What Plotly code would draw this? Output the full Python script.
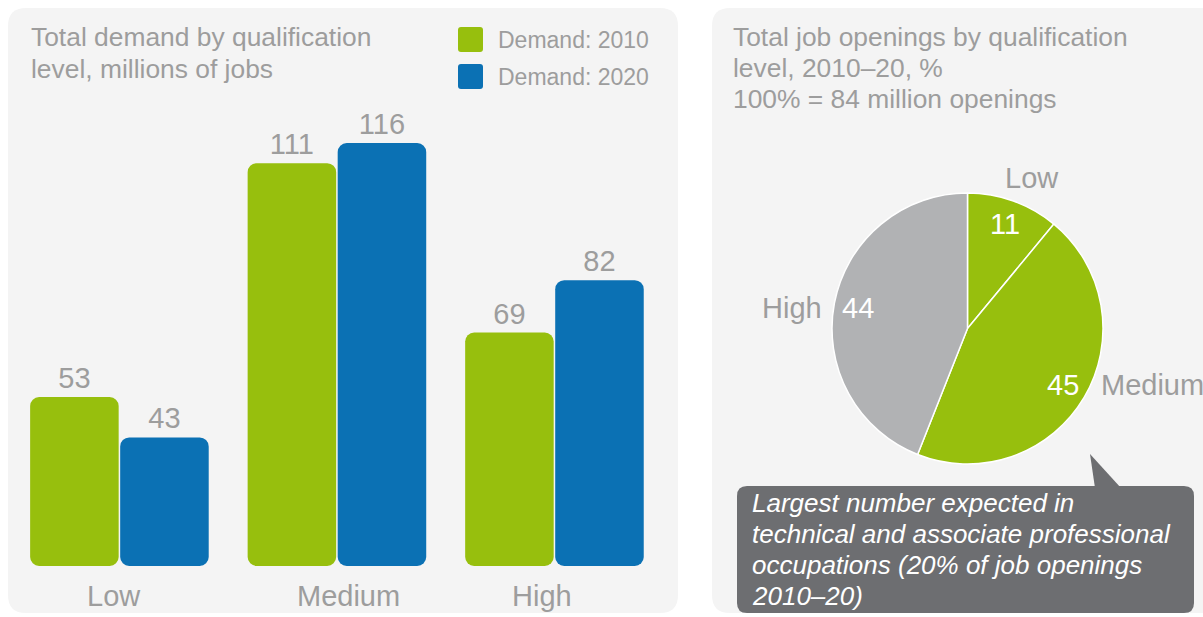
import math
import plotly.graph_objects as go

# ---------------- data ----------------
categories = ["Low", "Medium", "High"]
demand_2010 = [53, 111, 69]
demand_2020 = [43, 116, 82]
series_names = ["Demand: 2010", "Demand: 2020"]

pie_labels = ["Low", "Medium", "High"]
pie_values = [11, 45, 44]

left_title = ["Total demand by qualification", "level, millions of jobs"]
right_title = ["Total job openings by qualification", "level, 2010\u201320, %", "100% = 84 million openings"]
callout_lines = ["Largest number expected in", "technical and associate professional",
                 "occupations (20% of job openings", "2010\u201320)"]

# ---------------- style ----------------
W, H = 1203, 617
GREEN = "#97bf0d"
BLUE = "#0b71b4"
GREY_SLICE = "#b1b2b4"
PANEL = "#f4f4f4"
TXT = "#9d9d9d"
CALLOUT = "#6d6e71"
FONT = "Arial, Liberation Sans, sans-serif"
pie_colors = [GREEN, GREEN, GREY_SLICE]

AXIS_MIN = 11.1          # visual baseline of the original chart
PX_PER_UNIT = 4.032
Y_BOTTOM_PX, Y_TOP_PX = 566, 86
BW = 0.407
OFFSETS = [-0.4105, 0.0035]
RADIUS = 9


def px(x):
    return x / W


def py(y):
    return 1 - y / H


def rrect(x0, y0, x1, y1, r):
    X = lambda v: px(v)
    Y = lambda v: py(v)
    return (f"M {X(x0 + r)} {Y(y0)} L {X(x1 - r)} {Y(y0)} Q {X(x1)} {Y(y0)} {X(x1)} {Y(y0 + r)} "
            f"L {X(x1)} {Y(y1 - r)} Q {X(x1)} {Y(y1)} {X(x1 - r)} {Y(y1)} "
            f"L {X(x0 + r)} {Y(y1)} Q {X(x0)} {Y(y1)} {X(x0)} {Y(y1 - r)} "
            f"L {X(x0)} {Y(y0 + r)} Q {X(x0)} {Y(y0)} {X(x0 + r)} {Y(y0)} Z")


fig = go.Figure()

for name, vals, color, off in zip(series_names, [demand_2010, demand_2020], [GREEN, BLUE], OFFSETS):
    fig.add_trace(go.Bar(
        x=categories, y=[v - AXIS_MIN for v in vals], base=AXIS_MIN,
        offset=off, width=BW, marker=dict(color=color, cornerradius=RADIUS, line=dict(width=0)),
        text=[str(v) for v in vals], textposition="outside",
        textfont=dict(family=FONT, size=29, color=TXT), cliponaxis=False,
        name=name, customdata=vals, hovertemplate="%{x}: %{customdata}<extra>" + name + "</extra>",
        showlegend=False))

# pie
PIE_CX, PIE_CY, PIE_R = 967.5, 328.5, 135.5
fig.add_trace(go.Pie(
    labels=pie_labels, values=pie_values, sort=False, direction="clockwise", rotation=0,
    marker=dict(colors=pie_colors, line=dict(color="white", width=1.5)),
    textinfo="none", showlegend=False,
    domain=dict(x=[px(PIE_CX - PIE_R), px(PIE_CX + PIE_R)],
                y=[py(PIE_CY + PIE_R), py(PIE_CY - PIE_R)])))

shapes = [
    dict(type="path", path=rrect(8, 8, 678, 613, 18), fillcolor=PANEL, line=dict(width=0), layer="below",
         xref="paper", yref="paper"),
    dict(type="path", path=rrect(712, 8, 1230, 613, 18), fillcolor=PANEL, line=dict(width=0), layer="below",
         xref="paper", yref="paper"),
    dict(type="path", path=rrect(737, 486, 1194, 613, 10), fillcolor=CALLOUT, line=dict(width=0),
         xref="paper", yref="paper"),
    dict(type="path", path=f"M {px(1090)} {py(454)} L {px(1095)} {py(488)} L {px(1121)} {py(488)} Z",
         fillcolor=CALLOUT, line=dict(width=0), xref="paper", yref="paper"),
]
# legend swatches
for i, color in enumerate([GREEN, BLUE]):
    y0 = 27 + i * 37
    shapes.append(dict(type="path", path=rrect(458, y0, 483, y0 + 25, 3), fillcolor=color,
                       line=dict(width=0), xref="paper", yref="paper"))

annotations = []


def text(x, y, s, size, color=TXT, xanchor="left", **kw):
    annotations.append(dict(x=px(x), y=py(y), xref="paper", yref="paper", text=s, showarrow=False,
                            xanchor=xanchor, yanchor="middle",
                            font=dict(family=FONT, size=size, color=color), **kw))


for i, line in enumerate(left_title):
    text(29, 37 + i * 32, line, 26.4)
for i, line in enumerate(right_title):
    text(731, 37 + i * 31, line, 26.4)
for i, name in enumerate(series_names):
    text(496, 40 + i * 37, name, 23)
for i, line in enumerate(callout_lines):
    text(750, 503 + i * 31, f"<i>{line}</i>", 26, color="white")

# category labels
cat_shift = [-5, 12, -12]
for c, s in zip(categories, cat_shift):
    annotations.append(dict(x=c, y=py(596), xref="x", yref="paper", text=c, showarrow=False,
                            xshift=s, xanchor="center", yanchor="middle",
                            font=dict(family=FONT, size=29, color=TXT)))

# pie labels (positions from slice mid-angles)
total = sum(pie_values)
cum = 0
outer = {"Low": dict(xanchor="center", xshift=27, yshift=46),
         "Medium": dict(xanchor="left", xshift=36, yshift=0),
         "High": dict(xanchor="right", xshift=-34, yshift=0)}
for lab, v in zip(pie_labels, pie_values):
    a = math.radians((cum + v / 2) / total * 360)
    cum += v
    ix = PIE_CX + 0.82 * PIE_R * math.sin(a)
    iy = PIE_CY - 0.82 * PIE_R * math.cos(a)
    text(ix, iy, str(v), 29, color="white", xanchor="center")
    o = outer[lab]
    text(ix, iy, lab, 29, xanchor=o["xanchor"], xshift=o["xshift"], yshift=o["yshift"])

fig.update_layout(
    width=W, height=H, margin=dict(l=0, r=0, t=0, b=0), autosize=False,
    paper_bgcolor="white", plot_bgcolor="rgba(0,0,0,0)",
    barmode="overlay", showlegend=False,
    xaxis=dict(type="category", categoryorder="array", categoryarray=categories,
               range=[-0.549, 2.568], domain=[0, px(678)], visible=False, fixedrange=True),
    yaxis=dict(range=[AXIS_MIN, AXIS_MIN + (Y_BOTTOM_PX - Y_TOP_PX) / PX_PER_UNIT],
               domain=[py(Y_BOTTOM_PX), py(Y_TOP_PX)], visible=False, fixedrange=True),
    shapes=shapes, annotations=annotations,
)

fig.write_html("out.html", config={"displayModeBar": False},
               post_script="document.body.style.margin='0';document.body.style.overflow='hidden';")
